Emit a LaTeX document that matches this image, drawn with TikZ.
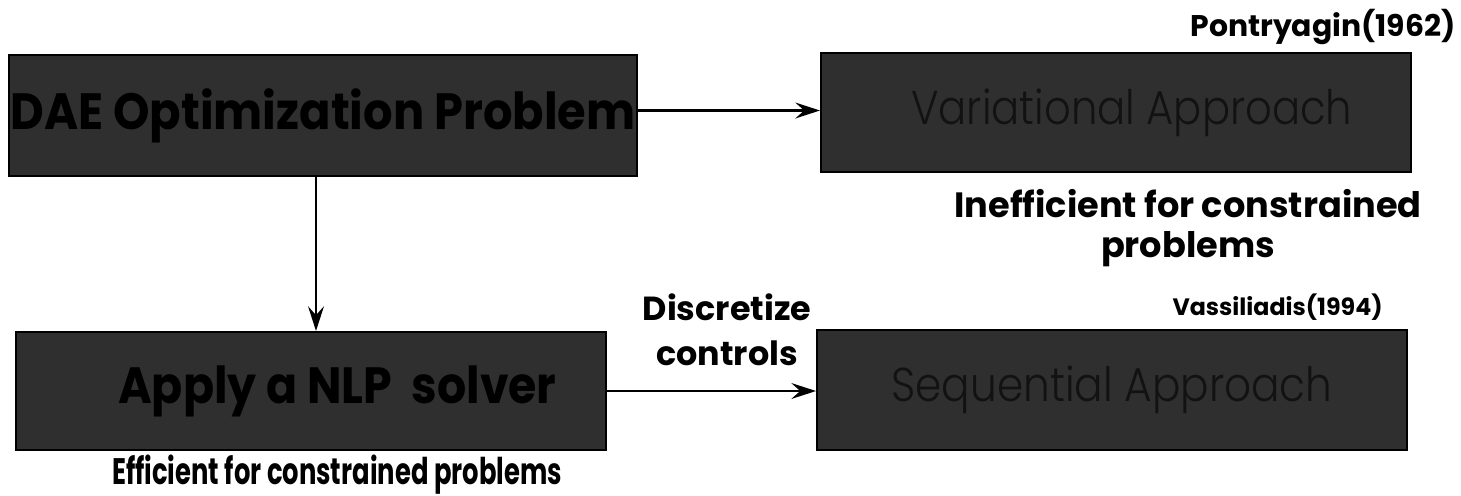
\documentclass[tikz,border=0pt]{standalone}
\usepackage{graphicx}
\usepackage{fontspec}
\setmainfont{Poppins}
\newfontfamily\thinfont{Poppins Light}
\usetikzlibrary{arrows.meta, positioning}
\definecolor{boxgray}{HTML}{2F2F2F}
\definecolor{inkgray}{HTML}{121212}

\begin{document}
\begin{tikzpicture}[x=0.02cm, y=-0.02cm,
  stage/.style={draw=black, line width=1.2pt, fill=boxgray, inner sep=0pt,
    minimum width=11.8cm, minimum height=2.38cm},
  flow/.style={line width=1.4pt, -{Stealth[length=14pt, width=9pt, inset=5pt]}},
  note/.style={inner sep=0pt, font=\bfseries\fontsize{19}{25.5}\selectfont}]
  \useasboundingbox (0,0) rectangle (1461,495);

  % --- top row ---
  \node[stage, minimum width=12.56cm, minimum height=2.42cm,
    font=\bfseries\fontsize{29}{34}\selectfont] (dae) at (323,115.5)
    {\scalebox{0.91}[1]{DAE Optimization Problem}};
  \node[stage, text=inkgray, font=\thinfont\fontsize{27}{32}\selectfont]
    (var) at (1116,112.5) {\hspace*{18pt}\scalebox{0.88}[1]{Variational Approach}};
  \node[note, font=\bfseries\fontsize{17}{22}\selectfont, anchor=base east] (pont) at (1456,36) {Pontryagin(1962)};
  \node[note, font=\bfseries\fontsize{20}{22.7}\selectfont, align=center] (ineff) at (1188,228)
    {Inefficient for constrained\\problems};

  % --- bottom row ---
  \node[stage, minimum height=2.36cm, font=\bfseries\fontsize{29}{34}\selectfont]
    (nlp) at (311,391) {\hspace*{30pt}\scalebox{0.9}[1]{Apply a NLP~~solver}};
  \node[stage, minimum height=2.4cm, text=inkgray, font=\thinfont\fontsize{27}{32}\selectfont]
    (seq) at (1112,390) {\scalebox{0.89}[1]{Sequential Approach}};
  \node[note, font=\bfseries\fontsize{13.5}{16}\selectfont, anchor=base east] (vass) at (1383,315) {Vassiliadis(1994)};
  \node[note, align=center] (disc) at (727,330) {Discretize\\controls};
  \node[note, font=\bfseries\fontsize{21}{25}\selectfont, anchor=base] (eff) at (337,484)
    {\scalebox{0.7}[1]{Efficient for constrained problems}};

  % connectors
  \draw[flow] ([yshift=0.1cm]dae.east) -- ([yshift=0.1cm]dae.east -| var.west);
  \draw[flow] ([xshift=-0.14cm]dae.south) -- ([xshift=-0.14cm]dae.south |- nlp.north);
  \draw[flow] (nlp.east) -- (nlp.east -| seq.west);
\end{tikzpicture}
\end{document}
